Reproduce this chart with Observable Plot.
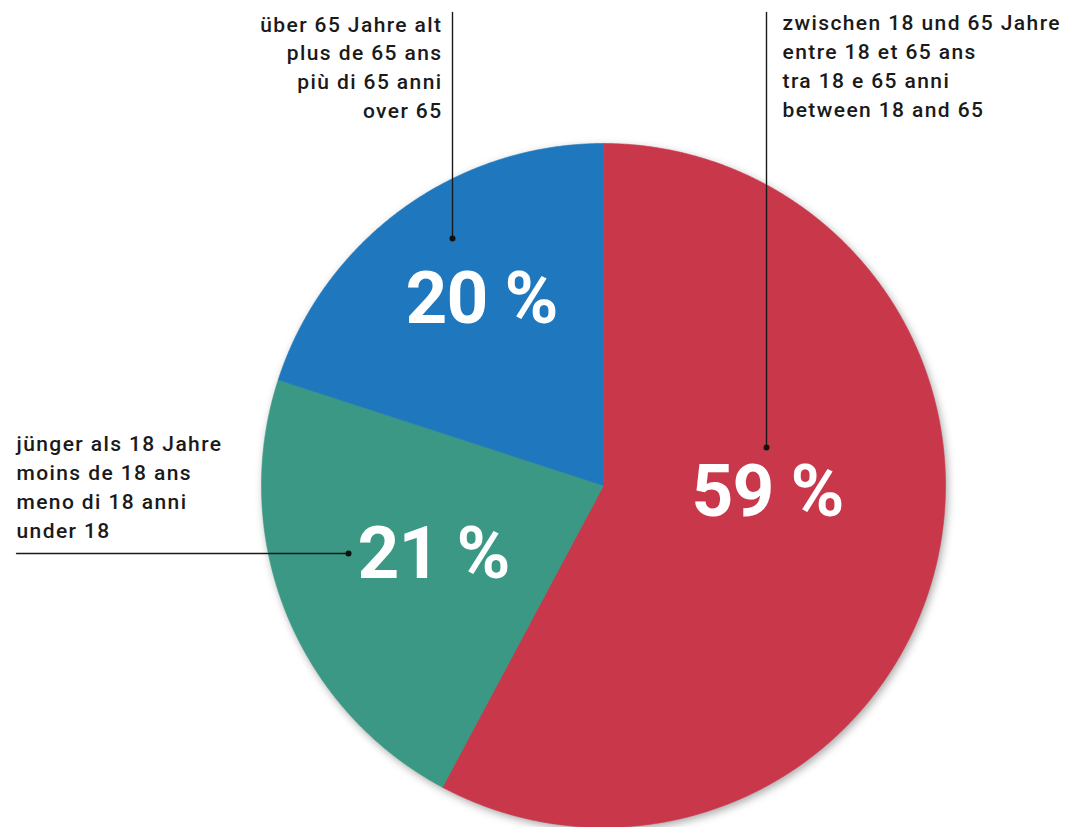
<!DOCTYPE html>
<html><head><meta charset="utf-8">
<script src="https://cdn.jsdelivr.net/npm/d3@7"></script>
<script src="https://cdn.jsdelivr.net/npm/@observablehq/plot@0.6"></script>
<style>
html,body{margin:0;padding:0;background:#fff;}
</style></head><body><div id="chart"></div>
<script>
// ---- data ----
const categories = ["zwischen 18 und 65 Jahre", "jünger als 18 Jahre", "über 65 Jahre alt"];
const shares = [57.8, 22.2, 20.0];           // slice sizes as drawn
const shareLabels = ["59 %", "21 %", "20 %"]; // printed values
const labelLines = [
  ["zwischen 18 und 65 Jahre", "entre 18 et 65 ans", "tra 18 e 65 anni", "between 18 and 65"],
  ["jünger als 18 Jahre", "moins de 18 ans", "meno di 18 anni", "under 18"],
  ["über 65 Jahre alt", "plus de 65 ans", "più di 65 anni", "over 65"]
];
const colors = ["#c9374a", "#3a9884", "#1f78be"];

// ---- layout ----
const W = 1079, H = 827, CX = 603, CY = 485, R = 342;
const X = px => (px - CX) / R;
const Y = py => (CY - py) / R;

const arcs = d3.pie().sort(null).value(d => d)(shares);
const slices = arcs.map((a, i) => {
  const pts = [{x: 0, y: 0}];
  const n = Math.ceil((a.endAngle - a.startAngle) / (Math.PI / 720));
  for (let k = 0; k <= n; k++) {
    const t = a.startAngle + (a.endAngle - a.startAngle) * k / n;
    pts.push({x: Math.sin(t), y: Math.cos(t)});
  }
  pts.push({x: 0, y: 0});
  return pts;
});

// annotation placement (pixels) for each category: [red, green, blue]
const pctPos = [[767, 515], [433, 577], [481, 322]]; // center x, baseline
const dotPos = [[766, 447], [348, 553], [452, 238]];
const leaderEnd = [[766, 12], [16, 553], [452, 12]];
const textPos = [[782, 116, "start"], [16, 537, "start"], [442, 117.5, "end"]];

const FS = 21, PFS = 73;
const marks = [
  Plot.dot([{x: 0, y: 0}], {x: "x", y: "y", r: R, fill: "#000", fillOpacity: 0.35, dx: 2, dy: 3})
];
slices.forEach((pts, i) => {
  marks.push(Plot.line(pts, {x: "x", y: "y", fill: colors[i], stroke: colors[i], strokeWidth: 0.6}));
});
categories.forEach((c, i) => {
  marks.push(Plot.line([{x: X(leaderEnd[i][0]), y: Y(leaderEnd[i][1])}, {x: X(dotPos[i][0]), y: Y(dotPos[i][1])}],
    {x: "x", y: "y", stroke: "#1a1a1a", strokeWidth: 1.4}));
  marks.push(Plot.dot([{x: X(dotPos[i][0]), y: Y(dotPos[i][1])}], {x: "x", y: "y", r: 3, fill: "#111"}));
  marks.push(Plot.text([{x: X(pctPos[i][0]), y: Y(pctPos[i][1] - 0.32 * PFS), t: shareLabels[i]}],
    {x: "x", y: "y", text: "t", fill: "white", fontSize: PFS, fontWeight: 700, fontFamily: "Roboto", textAnchor: "middle"}));
  marks.push(Plot.text([{x: X(textPos[i][0]), y: Y(textPos[i][1]), t: labelLines[i].join("\n")}],
    {x: "x", y: "y", text: "t", fill: "#1a1a1a", fontSize: FS, fontWeight: 500, fontFamily: "Roboto",
     textAnchor: textPos[i][2], lineAnchor: "bottom", lineHeight: 1.37}));
});

const chart = Plot.plot({
  width: W, height: H, margin: 0,
  x: {domain: [X(0), X(W)], axis: null},
  y: {domain: [Y(H), Y(0)], axis: null},
  style: {background: "white", fontFamily: "Roboto"},
  marks
});
// post styling: soft shadow and letter spacing
const dotGroups = chart.querySelectorAll('g[aria-label="dot"]');
if (dotGroups.length) dotGroups[0].style.filter = "blur(4px)";
chart.querySelectorAll('g[aria-label="text"]').forEach(g => {
  const fs = parseFloat(g.getAttribute("font-size"));
  if (fs === FS) g.style.letterSpacing = "1.4px";
  else if (fs === PFS) g.style.letterSpacing = "-1px";
});
document.getElementById("chart").append(chart);
</script></body></html>
